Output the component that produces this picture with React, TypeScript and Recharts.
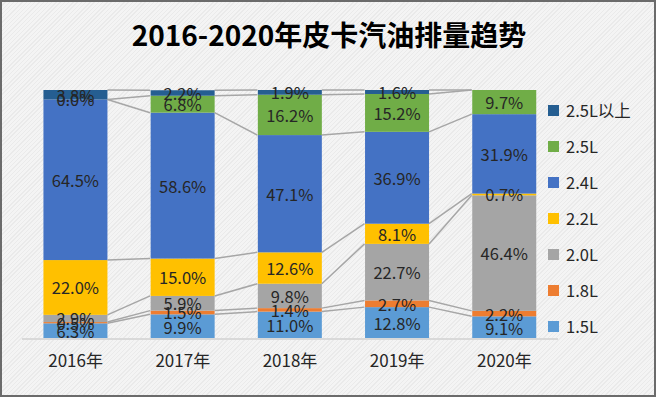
import React from 'react';
import { BarChart, Bar, XAxis, YAxis, Legend, LabelList } from 'recharts';

// categories and shares (%) per displacement, bottom to top of the stack
const years = ['2016年', '2017年', '2018年', '2019年', '2020年'];
const share15 = [6.3, 9.9, 11.0, 12.8, 9.1];
const share18 = [0.5, 1.5, 1.4, 2.7, 2.2];
const share20 = [2.9, 5.9, 9.8, 22.7, 46.4];
const share22 = [22.0, 15.0, 12.6, 8.1, 0.7];
const share24 = [64.5, 58.6, 47.1, 36.9, 31.9];
const share25 = [0.0, 6.8, 16.2, 15.2, 9.7];
const share25plus: (number | null)[] = [3.8, 2.2, 1.9, 1.6, null];

const series = [
  { key: 's15', name: '1.5L', color: '#5b9bd5', values: share15 },
  { key: 's18', name: '1.8L', color: '#ed7d31', values: share18 },
  { key: 's20', name: '2.0L', color: '#a5a5a5', values: share20 },
  { key: 's22', name: '2.2L', color: '#ffc000', values: share22 },
  { key: 's24', name: '2.4L', color: '#4472c4', values: share24 },
  { key: 's25', name: '2.5L', color: '#70ad47', values: share25 },
  { key: 's25p', name: '2.5L以上', color: '#255e91', values: share25plus },
];

const data = years.map((y, i) => {
  const row: any = { year: y };
  series.forEach(s => { row[s.key] = s.values[i]; });
  return row;
});

const GAP = 0.2;
const FONT = '"Noto Sans CJK SC", "Noto Sans", sans-serif';

// cumulative top of series s in category i
const cum = (i: number, s: number) => {
  let t = 0;
  for (let k = 0; k <= s; k++) t += series[k].values[i] ?? 0;
  return t;
};

const REF = 4; // 2.4L bars carry the series lines

const refShape = (props: any) => {
  const { x, y, width, height, index, fill, background } = props;
  let py: (v: number) => number;
  if (background && background.height > 0) {
    py = v => background.y + background.height * (1 - v / 100);
  } else {
    const lo = cum(index, REF - 1);
    const hi = cum(index, REF);
    const k = height / (hi - lo);
    py = v => y + (hi - v) * k;
  }
  const lines: React.ReactNode[] = [];
  if (index < years.length - 1) {
    const band = width / (1 - 2 * GAP);
    const x1 = x + width;
    const x2 = x1 + 2 * GAP * band;
    series.forEach((_, s) => {
      lines.push(
        <line key={s} x1={x1} y1={py(cum(index, s))} x2={x2} y2={py(cum(index + 1, s))}
          stroke="#a6a6a6" strokeWidth={1.5} />
      );
    });
  }
  return (
    <g>
      <rect x={x} y={y} width={width} height={height} fill={fill} />
      {lines}
    </g>
  );
};

const plainShape = (props: any) => {
  const { x, y, width, height, fill } = props;
  if (!height) return <g />;
  return <rect x={x} y={y} width={width} height={height} fill={fill} />;
};

const renderLabel = (p: any) => {
  const { x, y, width, height, value } = p;
  if (value === null || value === undefined) return null;
  return (
    <text x={x + width / 2} y={y + height / 2} textAnchor="middle" dominantBaseline="central"
      fontSize={16.5} fill="#262626" fontFamily={FONT}>
      {Number(value).toFixed(1)}%
    </text>
  );
};

const renderLegend = () => (
  <div style={{ fontFamily: FONT, fontSize: 16.5, color: '#262626' }}>
    {[...series].reverse().map(s => (
      <div key={s.key} style={{ display: 'flex', alignItems: 'center', height: 36 }}>
        <span style={{ width: 11, height: 11, background: s.color, display: 'inline-block', marginRight: 7 }} />
        <span>{s.name}</span>
      </div>
    ))}
  </div>
);

export default function App() {
  return (
    <div style={{
      position: 'absolute', left: 0, top: 0, width: 656, height: 397, boxSizing: 'border-box',
      border: '2px solid #6b6b6b',
      background: 'repeating-linear-gradient(135deg, #f4f4f4 0px, #f4f4f4 2px, #eaeaea 2px, #eaeaea 3px)',
    }}>
      <div style={{
        position: 'absolute', left: 0, width: 654, top: 16, textAlign: 'center',
        fontFamily: FONT, fontWeight: 700, fontSize: 28, color: '#000', lineHeight: '32px',
      }}>
        2016-2020年皮卡汽油排量趋势
      </div>
      <div style={{ position: 'absolute', left: 0, top: 0 }}>
        <BarChart width={652} height={393} data={data} barCategoryGap={`${GAP * 100}%`}
          margin={{ top: 88, right: 6, bottom: 26, left: 20 }}>
          <XAxis dataKey="year" tickLine={false} axisLine={{ stroke: '#d9d9d9', strokeWidth: 2 }}
            tickMargin={10} tick={{ fontSize: 17, fill: '#262626', fontFamily: FONT }} />
          <YAxis hide domain={[0, 100]} type="number" />
          <Legend layout="vertical" align="right" verticalAlign="top" content={renderLegend}
            wrapperStyle={{ left: 546, top: 90, width: 90 }} />
          {series.map((s, si) => (
            <Bar key={s.key} dataKey={s.key} name={s.name} stackId="a" fill={s.color}
              isAnimationActive={false} shape={si === REF ? refShape : plainShape}>
              <LabelList dataKey={s.key} content={renderLabel} />
            </Bar>
          ))}
        </BarChart>
      </div>
    </div>
  );
}
